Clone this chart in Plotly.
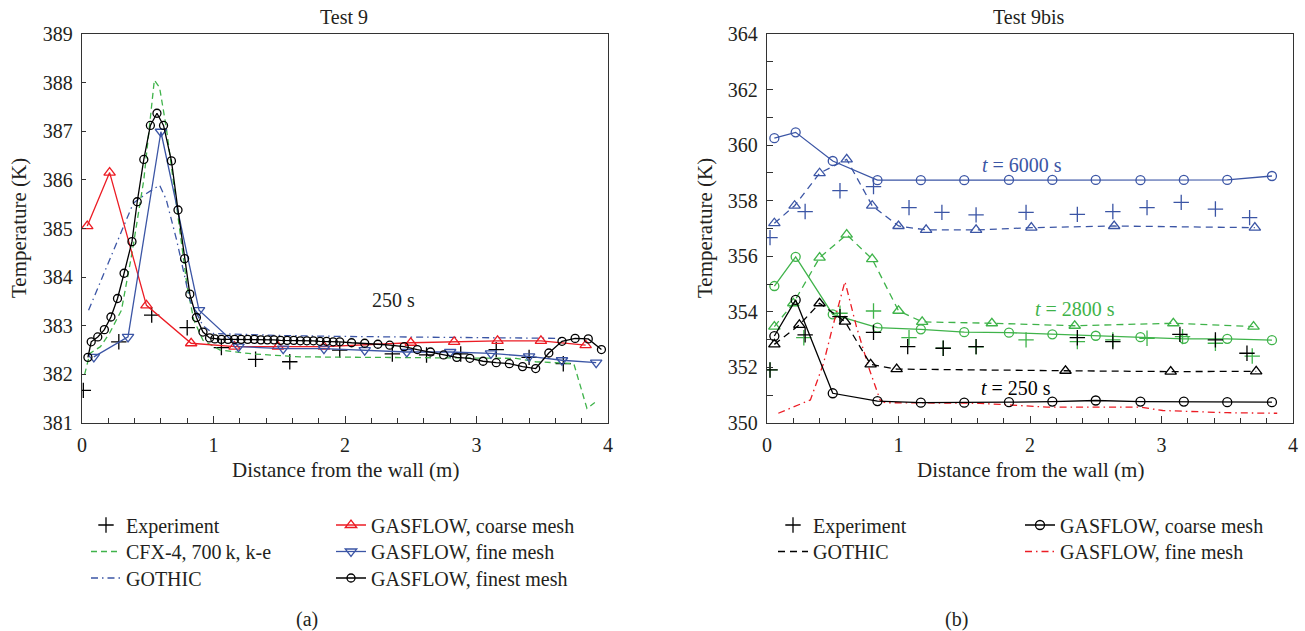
import plotly.graph_objects as go

# ---------------- Test 9 (left) ----------------
exp9_x = [0.01, 0.28, 0.53, 0.80, 1.06, 1.32, 1.58, 1.96, 2.36, 2.62, 2.88, 3.15, 3.40, 3.66]
exp9_y = [381.67, 382.67, 383.22, 382.96, 382.55, 382.31, 382.26, 382.50, 382.42, 382.40, 382.42, 382.51, 382.35, 382.22]

cfx9_x = [0.02, 0.06, 0.14, 0.21, 0.30, 0.38, 0.47, 0.55, 0.59, 0.64, 0.72, 0.80, 0.85, 0.92, 1.05, 1.30,
          1.66, 2.20, 2.80, 3.30, 3.45, 3.74, 3.84, 3.90]
cfx9_y = [382.00, 382.43, 382.57, 382.85, 383.32, 384.49, 386.00, 388.05, 387.90, 387.09, 385.45, 383.80,
          383.12, 382.70, 382.50, 382.42, 382.36, 382.35, 382.35, 382.33, 382.26, 382.22, 381.30, 381.42]

gothic9_x = [0.05, 0.39, 0.49, 0.59, 0.64, 0.72, 0.82, 0.92, 1.00, 1.50, 2.00, 2.50, 3.00, 3.40, 3.66]
gothic9_y = [383.32, 385.52, 385.72, 385.89, 385.60, 384.76, 383.53, 383.00, 382.84, 382.80, 382.78, 382.77,
             382.76, 382.75, 382.74]

coarse9_x = [0.04, 0.21, 0.49, 0.83, 1.16, 1.49, 1.84, 2.50, 2.83, 3.16, 3.49, 3.83]
coarse9_y = [385.05, 386.15, 383.42, 382.64, 382.57, 382.57, 382.57, 382.65, 382.67, 382.69, 382.69, 382.60]

fine9_x = [0.09, 0.35, 0.60, 0.89, 1.19, 1.53, 1.84, 2.15, 2.47, 2.80, 3.11, 3.40, 3.65, 3.91]
fine9_y = [382.36, 382.77, 386.99, 383.32, 382.57, 382.53, 382.53, 382.50, 382.46, 382.46, 382.43, 382.37,
           382.29, 382.24]

finest9_x = [0.045, 0.07, 0.12, 0.17, 0.22, 0.27, 0.32, 0.38, 0.42, 0.47, 0.52, 0.57, 0.62, 0.68, 0.73,
             0.78, 0.82, 0.87, 0.92, 0.97, 1.01, 1.06, 1.11, 1.16, 1.21, 1.26, 1.31, 1.36, 1.41, 1.46,
             1.51, 1.56, 1.61, 1.66, 1.71, 1.76, 1.81, 1.86, 1.91, 1.96, 2.05, 2.15, 2.25, 2.34, 2.45,
             2.55, 2.65, 2.75, 2.85, 2.95, 3.05, 3.15, 3.25, 3.35, 3.45, 3.55, 3.65, 3.75, 3.85, 3.95]
finest9_y = [382.35, 382.67, 382.77, 382.92, 383.18, 383.56, 384.08, 384.73, 385.55, 386.42, 387.12, 387.37,
             387.12, 386.39, 385.38, 384.38, 383.65, 383.17, 382.87, 382.75, 382.73, 382.72, 382.72, 382.72,
             382.72, 382.72, 382.72, 382.71, 382.71, 382.71, 382.70, 382.70, 382.70, 382.69, 382.69, 382.69,
             382.68, 382.68, 382.67, 382.67, 382.65, 382.64, 382.62, 382.60, 382.57, 382.51, 382.46, 382.40,
             382.35, 382.33, 382.27, 382.24, 382.22, 382.16, 382.12, 382.44, 382.68, 382.74, 382.73, 382.51]

# ---------------- Test 9bis (right) ----------------
coarse_x = [0.056, 0.218, 0.50, 0.84, 1.17, 1.50, 1.84, 2.17, 2.50, 2.84, 3.17, 3.50, 3.84]
c6000_y = [360.25, 360.46, 359.43, 358.74, 358.74, 358.74, 358.75, 358.75, 358.75, 358.74, 358.75, 358.75, 358.89]
c2800_y = [354.93, 355.98, 353.91, 353.43, 353.37, 353.27, 353.25, 353.19, 353.14, 353.09, 353.03, 353.03, 352.98]
c250_y = [353.13, 354.43, 351.07, 350.79, 350.73, 350.73, 350.75, 350.77, 350.81, 350.77, 350.77, 350.75, 350.75]

g6000_x = [0.056, 0.21, 0.40, 0.606, 0.80, 1.00, 1.21, 1.59, 2.01, 2.64, 3.71]
g6000_y = [357.19, 357.82, 358.99, 359.49, 357.82, 357.09, 356.95, 356.95, 357.03, 357.09, 357.03]
g2800_x = [0.056, 0.20, 0.40, 0.606, 0.80, 1.00, 1.18, 1.71, 2.34, 3.09, 3.70]
g2800_y = [353.47, 354.31, 355.95, 356.78, 355.90, 354.04, 353.64, 353.59, 353.50, 353.59, 353.47]
g250_x = [0.056, 0.246, 0.40, 0.593, 0.788, 0.986, 2.27, 3.07, 3.72]
g250_y = [352.83, 353.53, 354.31, 353.65, 352.11, 351.94, 351.88, 351.85, 351.86]

e6000_x = [0.023, 0.29, 0.555, 0.81, 1.08, 1.33, 1.59, 1.97, 2.36, 2.63, 2.89, 3.15, 3.41, 3.67]
e6000_y = [356.67, 357.61, 358.36, 358.51, 357.75, 357.58, 357.49, 357.58, 357.51, 357.61, 357.75, 357.94, 357.70, 357.39]
e2800_x = [0.023, 0.28, 0.555, 0.81, 1.08, 1.34, 1.59, 1.97, 2.36, 2.63, 2.89, 3.16, 3.41, 3.69]
e2800_y = [351.91, 353.07, 353.95, 354.03, 353.07, 352.69, 352.74, 352.99, 352.93, 352.99, 353.05, 353.11, 352.87, 352.41]
e250_x = [0.023, 0.29, 0.555, 0.81, 1.07, 1.34, 1.59, 2.36, 2.63, 3.14, 3.41, 3.65]
e250_y = [351.91, 353.17, 353.83, 353.26, 352.75, 352.69, 352.75, 353.07, 352.93, 353.19, 352.99, 352.51]

f250_x = [0.086, 0.33, 0.43, 0.50, 0.593, 0.68, 0.78, 0.86, 0.90, 1.20, 1.62, 2.13, 2.84, 3.01, 3.50, 3.88]
f250_y = [350.35, 350.83, 352.15, 353.47, 355.09, 353.47, 351.91, 350.83, 350.73, 350.72, 350.71, 350.57,
          350.57, 350.45, 350.37, 350.35]

BLUE = "#3b55a5"
GREEN = "#3fb34a"
RED = "#ec1c24"
BLACK = "#000000"
TXT = "#231f20"
AX = "#333333"
FONT = "'Liberation Serif', Tinos, 'Times New Roman', 'DejaVu Serif', serif"
DASH = "7px,5px"
DASHDOT = "7px,4px,1.5px,4px"

fig = go.Figure()


def exp_trace(x, y, color, xa, ya, legend, show, size=11):
    return go.Scatter(x=x, y=y, mode="markers", name="Experiment", xaxis=xa, yaxis=ya,
                      legend=legend, showlegend=show,
                      marker=dict(symbol="cross-thin", size=size, color=color,
                                  line=dict(width=1.3, color=color)))


def lm_trace(x, y, color, symbol, name, xa, ya, legend, show, dash="solid", size=9):
    return go.Scatter(x=x, y=y, mode="lines+markers", name=name, xaxis=xa, yaxis=ya,
                      legend=legend, showlegend=show,
                      line=dict(color=color, width=1.3, dash=dash),
                      marker=dict(symbol=symbol, size=size, color=color,
                                  line=dict(width=1.3, color=color)))


def l_trace(x, y, color, dash, name, xa, ya, legend, show=True):
    return go.Scatter(x=x, y=y, mode="lines", name=name, xaxis=xa, yaxis=ya,
                      legend=legend, showlegend=show,
                      line=dict(color=color, width=1.3, dash=dash))


# left panel
fig.add_trace(exp_trace(exp9_x, exp9_y, BLACK, "x", "y", "legend", True))
fig.add_trace(l_trace(cfx9_x, cfx9_y, GREEN, "6px,4px", "CFX-4, 700\u2009k, k-e", "x", "y", "legend5"))
fig.add_trace(l_trace(gothic9_x, gothic9_y, BLUE, DASHDOT, "GOTHIC", "x", "y", "legend6"))
fig.add_trace(lm_trace(coarse9_x, coarse9_y, RED, "triangle-up-open", "GASFLOW, coarse mesh",
                       "x", "y", "legend2", True, size=10))
fig.add_trace(lm_trace(fine9_x, fine9_y, BLUE, "triangle-down-open", "GASFLOW, fine mesh",
                       "x", "y", "legend7", True, size=10))
fig.add_trace(lm_trace(finest9_x, finest9_y, BLACK, "circle-open", "GASFLOW, finest mesh",
                       "x", "y", "legend8", True, size=8))

# right panel
fig.add_trace(lm_trace(coarse_x, c6000_y, BLUE, "circle-open", "GASFLOW, coarse mesh", "x2", "y2", "legend4", False))
fig.add_trace(lm_trace(g6000_x, g6000_y, BLUE, "triangle-up-open", "GOTHIC", "x2", "y2", "legend9", False,
                       dash=DASH, size=10))
fig.add_trace(exp_trace(e6000_x, e6000_y, BLUE, "x2", "y2", "legend3", False))
fig.add_trace(lm_trace(coarse_x, c2800_y, GREEN, "circle-open", "GASFLOW, coarse mesh", "x2", "y2", "legend4", False))
fig.add_trace(lm_trace(g2800_x, g2800_y, GREEN, "triangle-up-open", "GOTHIC", "x2", "y2", "legend9", False,
                       dash=DASH, size=10))
fig.add_trace(exp_trace(e2800_x, e2800_y, GREEN, "x2", "y2", "legend3", False))
fig.add_trace(l_trace(f250_x, f250_y, RED, DASHDOT, "GASFLOW, fine mesh", "x2", "y2", "legend10", False))
fig.add_trace(lm_trace(g250_x, g250_y, BLACK, "triangle-up-open", "GOTHIC", "x2", "y2", "legend9", False,
                       dash=DASH, size=10))
fig.add_trace(exp_trace(e250_x, e250_y, BLACK, "x2", "y2", "legend3", True))
fig.add_trace(l_trace([None], [None], BLACK, DASH, "GOTHIC", "x2", "y2", "legend9"))
fig.add_trace(lm_trace(coarse_x, c250_y, BLACK, "circle-open", "GASFLOW, coarse mesh", "x2", "y2", "legend4", True))
fig.add_trace(l_trace([None], [None], RED, DASHDOT, "GASFLOW, fine mesh", "x2", "y2", "legend10"))

W, H = 1305, 631


def px_x(p):
    return p / W


def px_y(p):
    return (H - p) / H


axis_common = dict(showgrid=False, zeroline=False, showline=True, linecolor=AX, linewidth=1.4,
                   mirror=True, ticks="inside", tickcolor=AX, tickwidth=1.2,
                   tickfont=dict(family=FONT, size=20, color=TXT))

xcommon = dict(axis_common, range=[0, 4], dtick=1, tick0=0, ticklen=7,
               minor=dict(dtick=0.2, tick0=0, ticks="inside", ticklen=5, tickcolor=AX, tickwidth=1.2),
               ticklabelstandoff=4)

legend_common = dict(font=dict(family=FONT, size=20, color=TXT), bgcolor="rgba(0,0,0,0)",
                     orientation="v", xanchor="left", yanchor="middle", tracegroupgap=0)

ROW = [525, 551.5, 578]
legend_pos = {
    "legend": (86, ROW[0]), "legend5": (86, ROW[1]), "legend6": (86, ROW[2]),
    "legend2": (331, ROW[0]), "legend7": (331, ROW[1]), "legend8": (331, ROW[2]),
    "legend3": (773, ROW[0]), "legend9": (773, ROW[1]),
    "legend4": (1020, ROW[0]), "legend10": (1020, ROW[1]),
}
legends = {k: dict(legend_common, x=px_x(v[0]), y=px_y(v[1])) for k, v in legend_pos.items()}

fig.update_layout(
    width=W, height=H, autosize=False,
    margin=dict(l=0, r=0, t=0, b=0, autoexpand=False),
    paper_bgcolor="white", plot_bgcolor="white",
    xaxis=dict(xcommon, domain=[px_x(82), px_x(608)], anchor="y"),
    yaxis=dict(axis_common, range=[381, 389], dtick=1, ticklen=4, ticklabelstandoff=4,
               domain=[px_y(423), px_y(34)], anchor="x"),
    xaxis2=dict(xcommon, domain=[px_x(767), px_x(1293)], anchor="y2"),
    yaxis2=dict(axis_common, range=[350, 364], dtick=2, ticklen=6, ticklabelstandoff=4,
                minor=dict(dtick=1, ticks="inside", ticklen=6, tickcolor=AX, tickwidth=1.2),
                domain=[px_y(423), px_y(34)], anchor="x2"),
    **legends,
)

tfont = dict(family=FONT, size=20, color=TXT)
ann = [
    dict(text="Test 9", x=px_x(344), y=px_y(17)),
    dict(text="Test 9bis", x=px_x(1029), y=px_y(17)),
    dict(text="Distance from the wall (m)", x=px_x(345), y=px_y(470), font=dict(tfont, size=21)),
    dict(text="Distance from the wall (m)", x=px_x(1030), y=px_y(470), font=dict(tfont, size=21)),
    dict(text="Temperature (K)", x=px_x(19), y=px_y(228), textangle=-90, font=dict(tfont, size=21)),
    dict(text="Temperature (K)", x=px_x(705), y=px_y(228), textangle=-90, font=dict(tfont, size=21)),
    dict(text="(a)", x=px_x(307), y=px_y(619)),
    dict(text="(b)", x=px_x(957), y=px_y(619)),
]
for a in ann:
    a.setdefault("font", tfont)
    fig.add_annotation(xref="paper", yref="paper", showarrow=False, xanchor="center", yanchor="middle", **a)

fig.add_annotation(xref="x", yref="y", x=2.37, y=383.53, text="250 s", showarrow=False, font=tfont)
fig.add_annotation(xref="x2", yref="y2", x=1.94, y=359.29, text="<i>t</i> = 6000 s", showarrow=False,
                   font=dict(family=FONT, size=20, color=BLUE))
fig.add_annotation(xref="x2", yref="y2", x=2.34, y=354.10, text="<i>t</i> = 2800 s", showarrow=False,
                   font=dict(family=FONT, size=20, color=GREEN))
fig.add_annotation(xref="x2", yref="y2", x=1.89, y=351.26, text="<i>t</i> = 250 s", showarrow=False,
                   font=dict(family=FONT, size=20, color=BLACK))

fig.write_html("out.html")
